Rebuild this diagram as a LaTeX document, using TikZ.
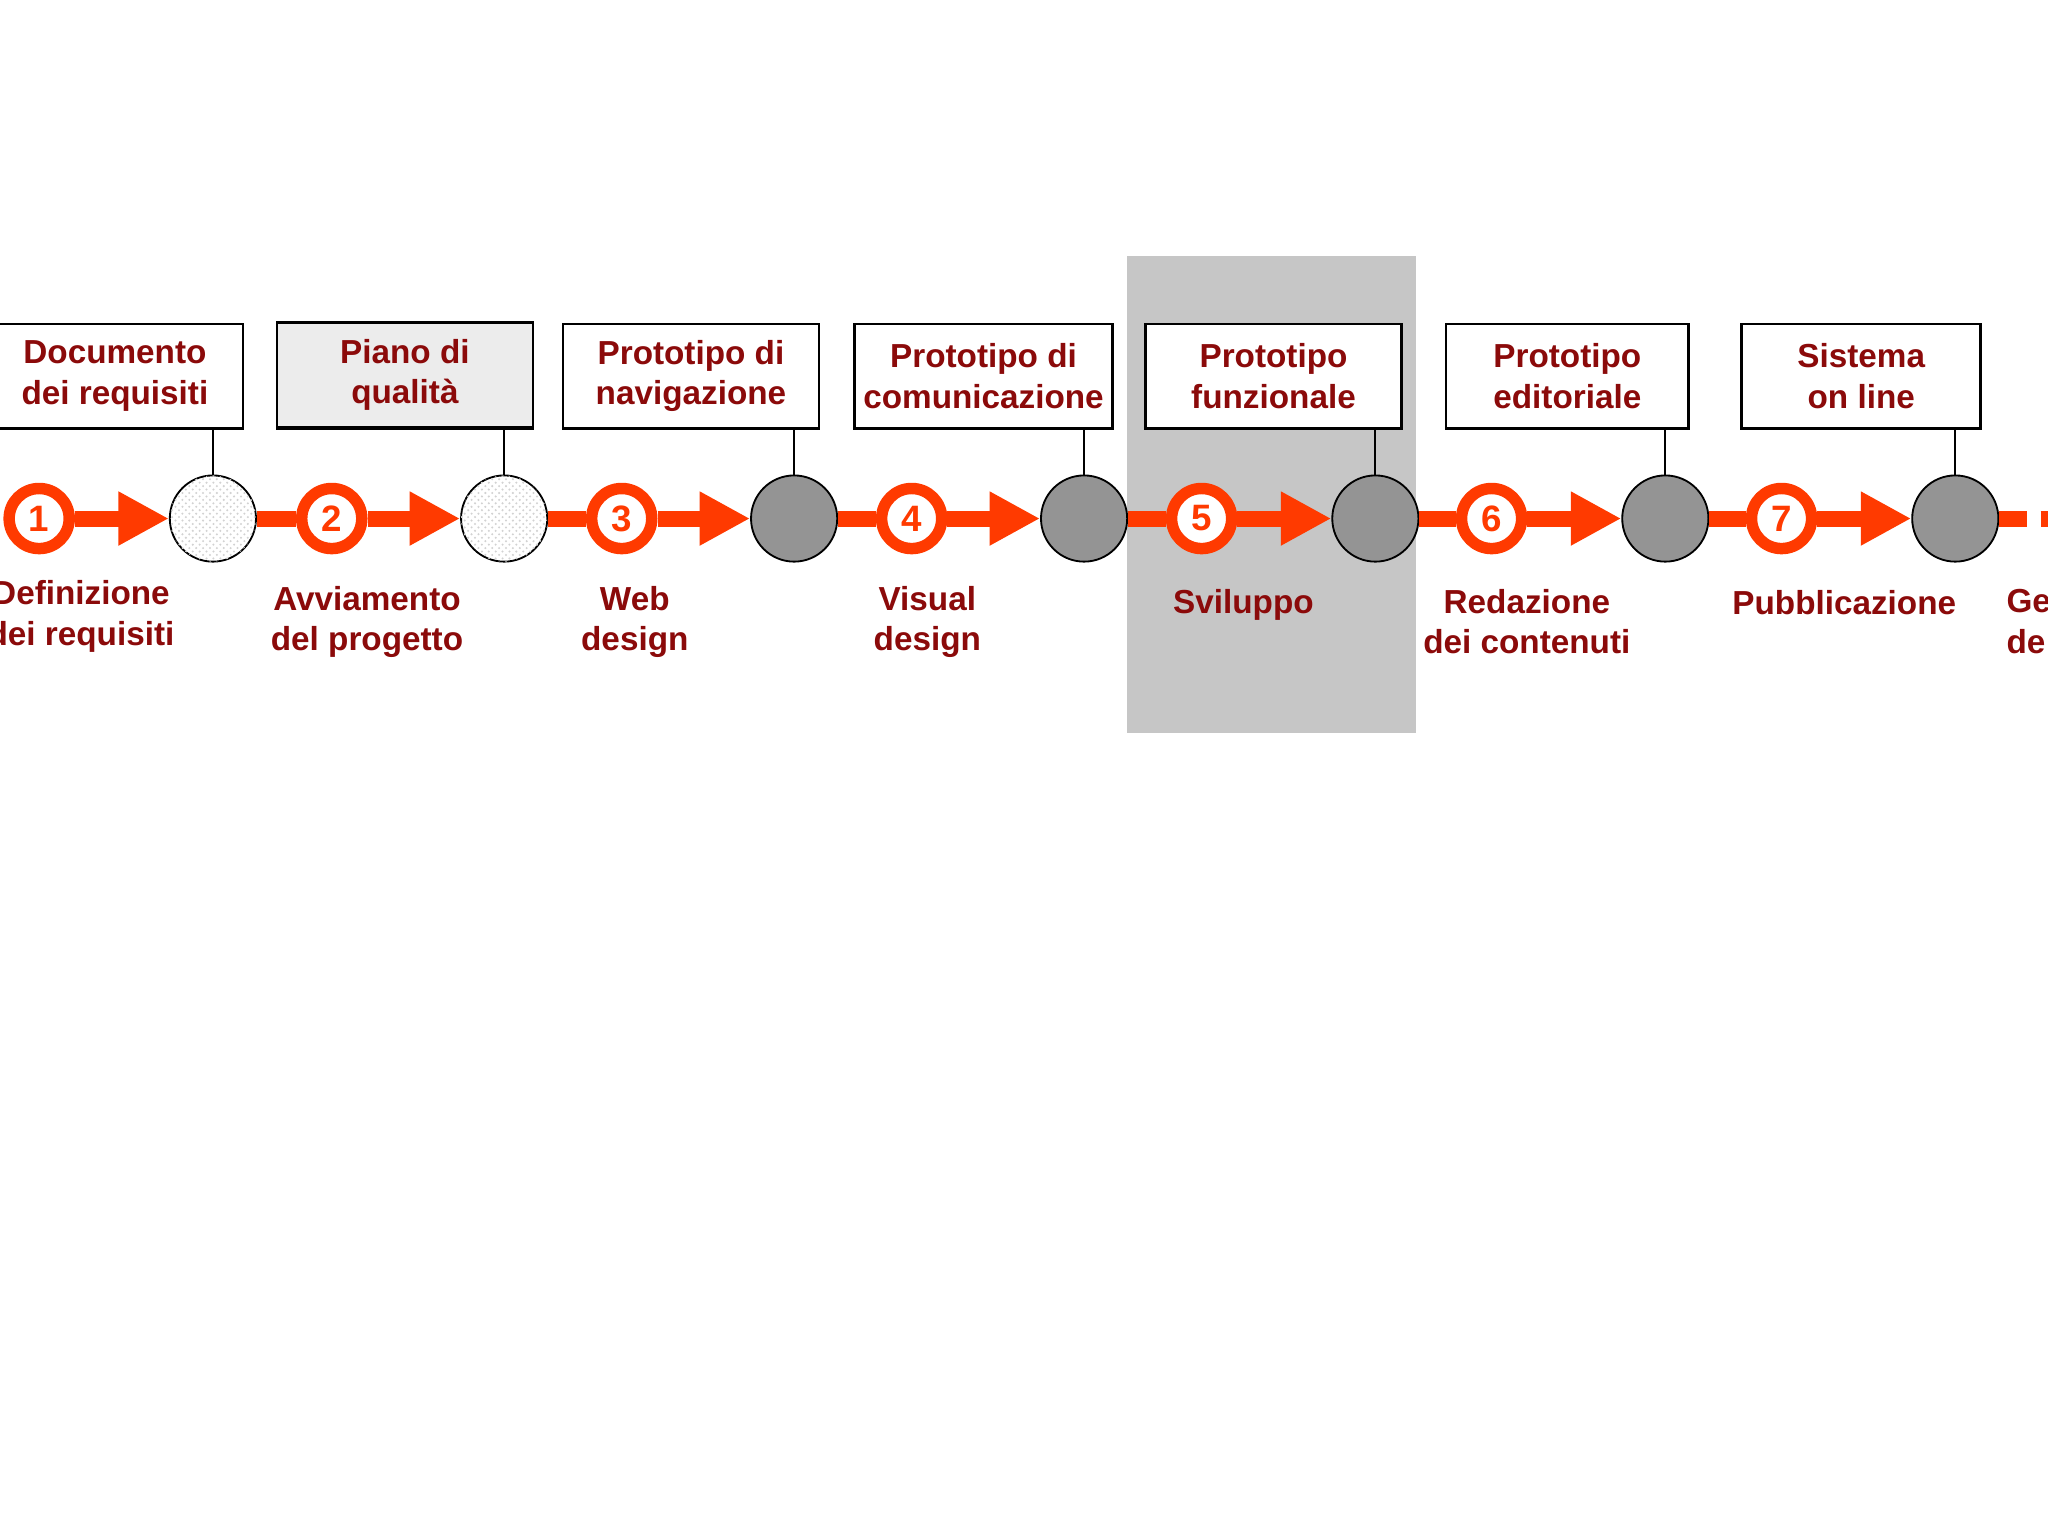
\documentclass[tikz,border=0pt]{standalone}
\usepackage{fontspec}
\setmainfont{Liberation Sans}
\usetikzlibrary{arrows.meta,patterns}
\definecolor{dred}{HTML}{8B0A0A}
\definecolor{ora}{HTML}{FF3A00}
\begin{document}
\begin{tikzpicture}[x=0.02cm,y=-0.02cm,
 box/.style={draw,line width=1.2pt,minimum width=196*0.02cm,minimum height=80*0.02cm,align=center,text=dred,font=\bfseries\fontsize{14.5}{17.6}\selectfont,inner sep=0pt},
 lab/.style={align=center,text=dred,font=\bfseries\fontsize{14.5}{17.6}\selectfont},
 num/.style={circle,draw=ora,line width=5pt,fill=white,minimum size=46*0.02cm,inner sep=0pt,text=ora,font=\bfseries\fontsize{16}{18}\selectfont},
 ms/.style={circle,draw,line width=0.8pt,fill=gray!80!black!70,minimum size=66*0.02cm,inner sep=0pt},
 msd/.style={circle,draw,line width=0.8pt,fill=white,minimum size=66*0.02cm,inner sep=0pt,postaction={pattern=crosshatch dots,pattern color=gray!35}},
 arr/.style={ora,line width=7pt,-{Triangle[length=22pt,width=22pt]}},
 bar/.style={ora,line width=7pt}]
\useasboundingbox (0,0) rectangle (1568,1176);
\clip (0,0) rectangle (1568,1176);
\fill[white] (0,0) rectangle (1568,1176);
\fill[gray!45] (863,196) rectangle (1084,561);
\foreach \i/\x/\bx/\bw/\t/\st in {1/163/88/196/{Documento\\dei requisiti}/msd,2/386/310/196/{Piano di\\qualità}/msd,3/608/529/196/{Prototipo di\\navigazione}/ms,4/830/753/197/{Prototipo di\\comunicazione}/ms,5/1053/975/196/{Prototipo\\funzionale}/ms,6/1275/1200/186/{Prototipo\\editoriale}/ms,7/1497/1425/183/{Sistema\\on line}/ms}{
 \node[box,fill=white,minimum width=\bw*0.02cm] (b\i) at (\bx,288) {\t};
 \node[\st] (m\i) at (\x,397) {};
 \draw[line width=0.8pt] (m\i.north) -- (m\i.north |- b\i.south);
}
\node[box,fill=gray!15] (b2) at (310,287) {Piano di\\qualità};
\foreach \i/\x in {1/30,2/254,3/476,4/698,5/920,6/1142,7/1364}{
 \node[num] (n\i) at (\x,397) {\i};
 \draw[arr] (n\i.east) -- (m\i.west);
}
\foreach \a/\b in {1/2,2/3,3/4,4/5,5/6,6/7}{\draw[bar] (m\a.east) -- (n\b.west);}
\coordinate (e) at (1568,397);
\draw[bar,dash pattern=on 12pt off 6pt] (m7.east) -- (e);
\node[lab] (l1) at (62,472) {Definizione\\dei requisiti};
\node[lab] (l2) at (281,476) {Avviamento\\del progetto};
\node[lab] (l3) at (486,476) {Web\\design};
\node[lab] (l4) at (710,476) {Visual\\design};
\node[lab] (l5) at (952,463) {Sviluppo};
\node[lab] (l6) at (1169,476) {Redazione\\dei contenuti};
\node[lab] (l7) at (1412,461) {Pubblicazione};
\node[lab,align=left,anchor=west] (l8) at (1530,476) {Ge\\de};
\end{tikzpicture}
\end{document}
